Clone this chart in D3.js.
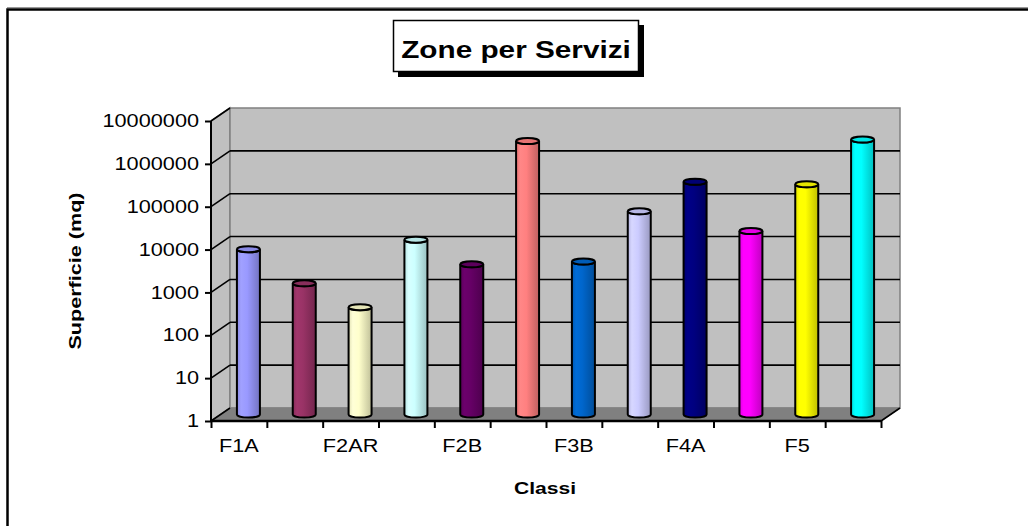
<!DOCTYPE html>
<html>
<head>
<meta charset="utf-8">
<script src="https://cdn.jsdelivr.net/npm/d3@7"></script>
<style>
  body { margin: 0; background: #fff; }
  svg { display: block; font-family: "Liberation Sans", Arial, sans-serif; }
</style>
</head>
<body>
<svg id="chart" width="1028" height="526"></svg>
<script>
'use strict'

const categories = ['F1A', 'F1B', 'F2AR', 'F2A', 'F2B', 'F3A', 'F3B', 'F3C', 'F4A', 'F4B', 'F5', 'F6']
const values = [7200, 1150, 320, 12000, 3200, 2400000, 3700, 55000, 270000, 19000, 236000, 2600000]
const colors = ['#9999FF', '#993366', '#FFFFCC', '#CCFFFF', '#660066', '#FF8080',
  '#0066CC', '#CCCCFF', '#000080', '#FF00FF', '#FFFF00', '#00FFFF']
const yTicks = [1, 10, 100, 1000, 10000, 100000, 1000000, 10000000]
const title = 'Zone per Servizi'
const yTitle = 'Superficie (mq)'
const xTitle = 'Classi'

const svg = d3.select('#chart')

// front plane of the 3d box, plus the depth offset of the back wall
const plotLeft = 211
const plotRight = 881
const depthX = 19
const depthY = -13
const stretch = 1.24 // the source picture is wider than tall, text looks stretched
const labelSize = 17.5

const x = d3.scaleBand().domain(categories).range([plotLeft, plotRight])
const y = d3.scaleLog().domain([1, 1e7]).range([421, 121])
const slot = d3.scaleLinear().domain([0, categories.length]).range([plotLeft, plotRight])

// outer chart border
svg.append('line').attr('x1', 7).attr('x2', 1028).attr('y1', 7.5).attr('y2', 7.5)
  .attr('stroke', '#999').attr('stroke-width', 1)
svg.append('path').attr('d', 'M7.5,526 V9.5 H1028')
  .attr('fill', 'none').attr('stroke', '#000').attr('stroke-width', 2.5)

// walls and floor
const plotTop = y(1e7)
const plotBottom = y(1)
const wallColor = '#C0C0C0'
const edgeColor = '#808080'

svg.append('polygon')
  .attr('points', [[plotLeft, plotTop], [plotLeft + depthX, plotTop + depthY],
    [plotLeft + depthX, plotBottom + depthY], [plotLeft, plotBottom]].join(' '))
  .attr('fill', wallColor).attr('stroke', edgeColor).attr('stroke-width', 1.5)

svg.append('rect')
  .attr('x', plotLeft + depthX).attr('y', plotTop + depthY)
  .attr('width', plotRight - plotLeft).attr('height', plotBottom - plotTop)
  .attr('fill', wallColor).attr('stroke', edgeColor).attr('stroke-width', 1.5)

svg.append('polygon')
  .attr('points', [[plotLeft, plotBottom], [plotRight, plotBottom],
    [plotRight + depthX, plotBottom + depthY], [plotLeft + depthX, plotBottom + depthY]].join(' '))
  .attr('fill', edgeColor).attr('stroke', edgeColor).attr('stroke-width', 1)

// gridlines on the back wall and on the side wall
svg.append('g').selectAll('line')
  .data(yTicks.filter(t => t > 1 && t < 1e7)).join('line')
  .attr('x1', plotLeft + depthX).attr('x2', plotRight + depthX)
  .attr('y1', d => y(d) + depthY).attr('y2', d => y(d) + depthY)
  .attr('stroke', '#000').attr('stroke-width', 1.6)

svg.append('g').selectAll('line')
  .data(yTicks.filter(t => t > 1)).join('line')
  .attr('x1', plotLeft).attr('x2', plotLeft + depthX)
  .attr('y1', d => y(d)).attr('y2', d => y(d) + depthY)
  .attr('stroke', '#000').attr('stroke-width', 1.6)

// floor front edges
svg.append('path')
  .attr('d', `M${plotLeft},${plotBottom} L${plotLeft + depthX},${plotBottom + depthY} M${plotRight},${plotBottom} L${plotRight + depthX},${plotBottom + depthY}`)
  .attr('stroke', '#000').attr('stroke-width', 1.6).attr('fill', 'none')

// y axis
const yAxis = svg.append('g')
  .attr('transform', `translate(${plotLeft},0)`)
  .call(d3.axisLeft(y).tickValues(yTicks).tickFormat(d3.format('d')).tickSize(6).tickPadding(4.5))
yAxis.select('.domain').attr('stroke-width', 2).attr('d', `M0,${plotTop}V${plotBottom}`)
yAxis.selectAll('.tick line').attr('stroke-width', 2)
yAxis.selectAll('.tick text')
  .attr('font-size', labelSize).attr('fill', '#000')
  .attr('font-family', '"Liberation Sans", Arial, sans-serif')
  .attr('x', -12 / stretch)
  .attr('transform', `scale(${stretch},1)`)

// x axis: ticks on slot boundaries, labels on every other category
const xAxisTicks = svg.append('g')
  .attr('transform', `translate(0,${plotBottom})`)
  .call(d3.axisBottom(slot).ticks(categories.length).tickFormat('').tickSize(7))
xAxisTicks.select('.domain').attr('stroke-width', 2.5).attr('d', `M${plotLeft},0H${plotRight}`)
xAxisTicks.selectAll('.tick line').attr('stroke-width', 2)

const xAxisLabels = svg.append('g')
  .attr('transform', `translate(0,${plotBottom})`)
  .call(d3.axisBottom(x).tickSize(0).tickPadding(19)
    .tickFormat((d, i) => i % 2 === 0 ? d : ''))
xAxisLabels.select('.domain').remove()
xAxisLabels.selectAll('.tick text')
  .attr('font-size', labelSize).attr('fill', '#000')
  .attr('font-family', '"Liberation Sans", Arial, sans-serif')
  .attr('transform', `scale(${stretch},1)`)

// cylinder bars sit halfway into the depth of the box
const defs = svg.append('defs')
colors.forEach((c, i) => {
  const base = d3.color(c)
  const g = defs.append('linearGradient').attr('id', `grad${i}`)
    .attr('x1', '0%').attr('x2', '100%').attr('y1', '0%').attr('y2', '0%')
  g.append('stop').attr('offset', '0%').attr('stop-color', base.darker(0.35))
  g.append('stop').attr('offset', '18%').attr('stop-color', base.brighter(0.15))
  g.append('stop').attr('offset', '45%').attr('stop-color', base)
  g.append('stop').attr('offset', '100%').attr('stop-color', base.darker(0.8))
})

const barWidth = 23
const ry = 3
const barData = categories.map((c, i) => ({ name: c, value: values[i], color: colors[i], i }))
const bars = svg.append('g').selectAll('g')
  .data(barData).join('g')

const cx = d => x(d.name) + x.bandwidth() / 2 + depthX / 2
const yMid = v => y(v) + depthY / 2

bars.append('path')
  .attr('d', d => {
    const x0 = cx(d) - barWidth / 2
    const x1 = cx(d) + barWidth / 2
    const yt = yMid(d.value)
    const yb = yMid(1)
    return `M${x0},${yt} V${yb} A${barWidth / 2},${ry} 0 0 0 ${x1},${yb} V${yt} A${barWidth / 2},${ry} 0 0 1 ${x0},${yt} Z`
  })
  .attr('fill', d => `url(#grad${d.i})`)
  .attr('stroke', '#000').attr('stroke-width', 2)

bars.append('ellipse')
  .attr('cx', cx).attr('cy', d => yMid(d.value))
  .attr('rx', barWidth / 2).attr('ry', ry)
  .attr('fill', d => d3.color(d.color).darker(0.3))
  .attr('stroke', '#000').attr('stroke-width', 2)

// title box with shadow
svg.append('rect').attr('x', 398).attr('y', 25).attr('width', 246).attr('height', 52).attr('fill', '#000')
svg.append('rect').attr('x', 393.5).attr('y', 20.5).attr('width', 245).attr('height', 51)
  .attr('fill', '#fff').attr('stroke', '#000').attr('stroke-width', 1.5)
svg.append('text')
  .attr('transform', `translate(516,58) scale(${stretch},1)`)
  .attr('text-anchor', 'middle').attr('font-weight', 'bold').attr('font-size', 24)
  .text(title)

svg.append('text')
  .attr('transform', 'translate(81,271) rotate(-90) scale(1.27,1)')
  .attr('text-anchor', 'middle').attr('font-weight', 'bold').attr('font-size', 17)
  .text(yTitle)

svg.append('text')
  .attr('transform', `translate(545,494) scale(${stretch},1)`)
  .attr('text-anchor', 'middle').attr('font-weight', 'bold').attr('font-size', 17)
  .text(xTitle)
</script>
</body>
</html>
